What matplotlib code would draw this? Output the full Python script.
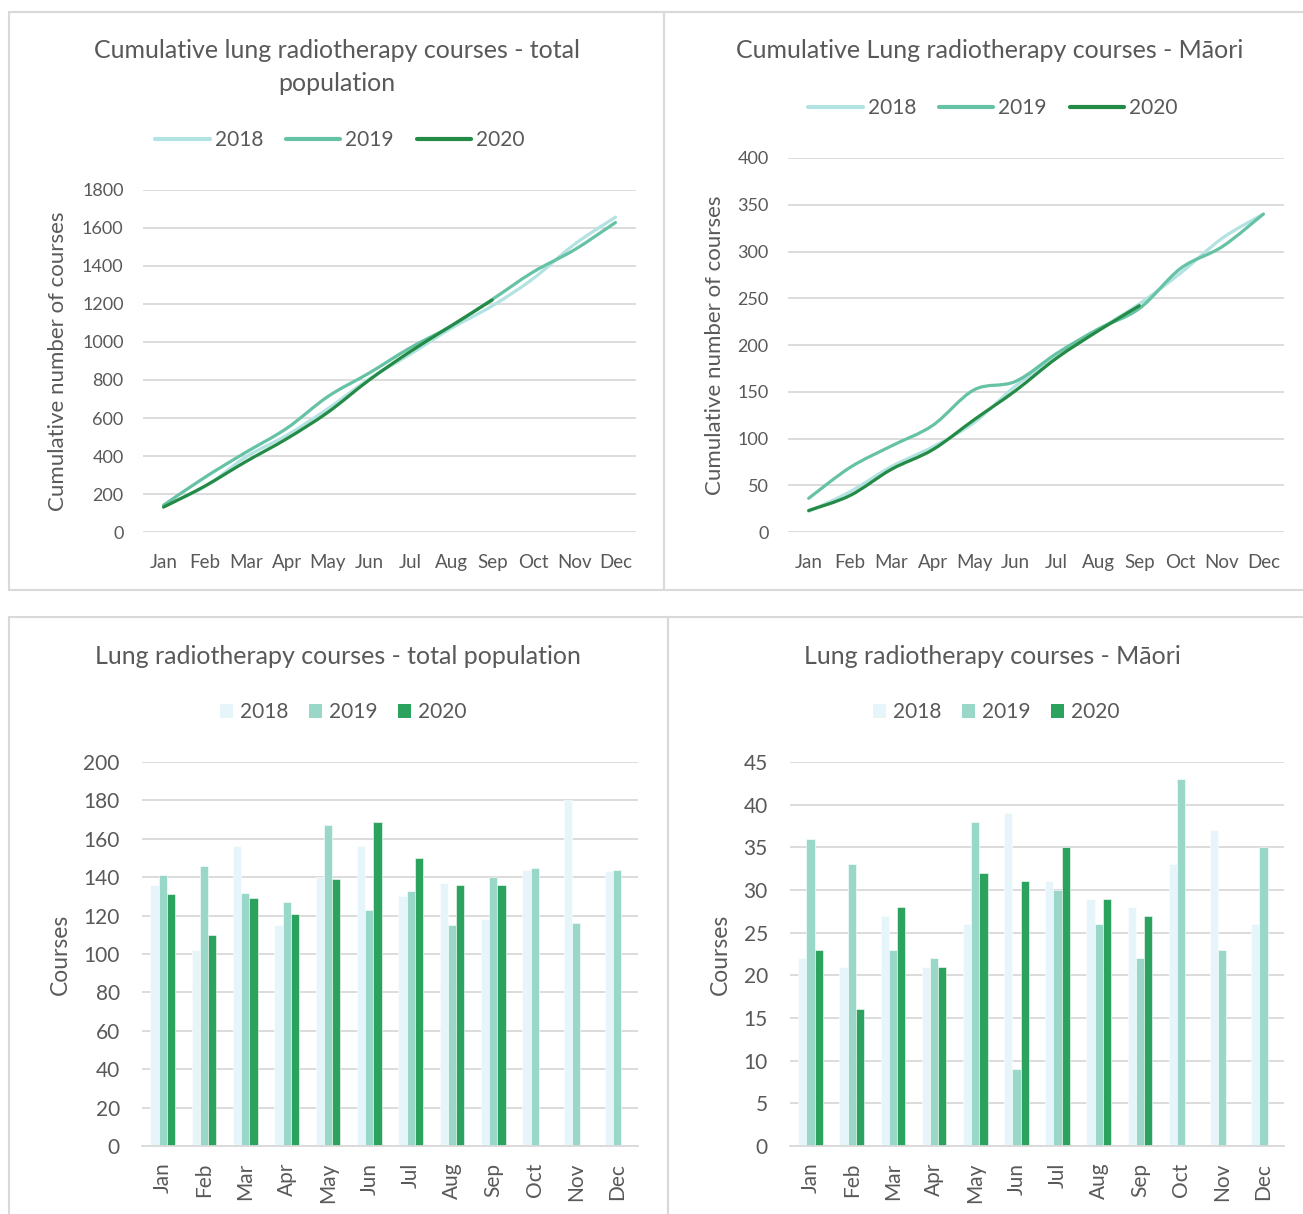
import numpy as np
import matplotlib
matplotlib.use("Agg")
import matplotlib.pyplot as plt
from matplotlib.path import Path
from matplotlib.patches import PathPatch, Rectangle, Patch
from matplotlib.lines import Line2D

plt.rcParams['font.family'] = ['Lato', 'DejaVu Sans']

months = ['Jan', 'Feb', 'Mar', 'Apr', 'May', 'Jun', 'Jul', 'Aug', 'Sep', 'Oct', 'Nov', 'Dec']
years = ['2018', '2019', '2020']

# monthly courses, total population
total_2018 = [136, 102, 156, 115, 140, 156, 130, 137, 118, 144, 180, 143]
total_2019 = [141, 146, 132, 127, 167, 123, 133, 115, 140, 145, 116, 144]
total_2020 = [131, 110, 129, 121, 139, 169, 150, 136, 136]

# monthly courses, Māori
maori_2018 = [22, 21, 27, 21, 26, 39, 31, 29, 28, 33, 37, 26]
maori_2019 = [36, 33, 23, 22, 38, 9, 30, 26, 22, 43, 23, 35]
maori_2020 = [23, 16, 28, 21, 32, 31, 35, 29, 27]

line_colors = ['#b2e2e2', '#66c2a4', '#238b45']
bar_colors = ['#e5f5f9', '#99d8c9', '#2ca25f']
text_col = '#595959'
grid_col = '#d9d9d9'

W, H = 1303, 1214
fig = plt.figure(figsize=(W / 100, H / 100), dpi=100)


def fx(px):
    return px / W


def fy(py):
    return 1 - py / H


def add_axes(x0, y0, x1, y1):
    return fig.add_axes([fx(x0), fy(y1), fx(x1) - fx(x0), (y1 - y0) / H])


def smooth_path(x, y):
    # Catmull-Rom style bezier through the monthly points
    pts = np.column_stack([x, y]).astype(float)
    verts = [pts[0]]
    codes = [Path.MOVETO]
    n = len(pts)
    for i in range(n - 1):
        p0 = pts[max(i - 1, 0)]
        p1 = pts[i]
        p2 = pts[i + 1]
        p3 = pts[min(i + 2, n - 1)]
        verts += [p1 + (p2 - p0) / 6, p2 - (p3 - p1) / 6, p2]
        codes += [Path.CURVE4] * 3
    return Path(verts, codes)


def style_axes(ax, ymax, step, fs):
    ax.set_ylim(0, ymax)
    ax.set_yticks(np.arange(0, ymax + 1, step))
    ax.set_xlim(-0.5, 11.5)
    ax.set_xticks(range(12))
    for s in ax.spines.values():
        s.set_visible(False)
    ax.grid(axis='y', color=grid_col, lw=1.3)
    ax.set_axisbelow(True)
    ax.tick_params(length=0, labelsize=fs, colors=text_col)


def line_panel(ax, series, ymax, step, title_xy, title, leg_xy, ylab_xy):
    style_axes(ax, ymax, step, 13)
    ax.set_xticklabels(months, fontsize=13.5)
    ax.tick_params(axis='y', pad=14)
    ax.tick_params(axis='x', pad=16)
    for vals, c in zip(series, line_colors):
        cum = np.cumsum(vals)
        ax.add_patch(PathPatch(smooth_path(np.arange(len(cum)), cum), fill=False,
                               edgecolor=c, lw=2.3, capstyle='round', joinstyle='round'))
    handles = [Line2D([], [], color=c, lw=3, solid_capstyle='round') for c in line_colors]
    fig.legend(handles, years, loc='center', bbox_to_anchor=(fx(leg_xy[0]), fy(leg_xy[1])),
               ncol=3, frameon=False, fontsize=15, handlelength=2.6, handletextpad=0.25,
               columnspacing=1.1, labelcolor=text_col)
    fig.text(fx(title_xy[0]), fy(title_xy[1]), title, ha='center', va='center',
             fontsize=18, color=text_col, linespacing=1.55)
    fig.text(fx(ylab_xy[0]), fy(ylab_xy[1]), 'Cumulative number of courses', rotation=90,
             ha='center', va='center', fontsize=16, color=text_col)


def bar_panel(ax, series, ymax, step, title_xy, title, leg_xy, ylab_xy):
    style_axes(ax, ymax, step, 15)
    ax.set_xticklabels(months, rotation=90, va='top', ha='center')
    ax.tick_params(axis='y', pad=16)
    ax.tick_params(axis='x', pad=12)
    w = 0.2
    for k, (vals, c) in enumerate(zip(series, bar_colors)):
        x = np.arange(len(vals)) + (k - 1) * w
        ax.bar(x, vals, width=w, color=c, edgecolor='white', lw=0.4, zorder=2)
    ax.spines['bottom'].set_visible(True)
    ax.spines['bottom'].set_color(grid_col)
    ax.spines['bottom'].set_linewidth(1.3)
    handles = [Patch(facecolor=c, edgecolor='none') for c in bar_colors]
    fig.legend(handles, years, loc='center', bbox_to_anchor=(fx(leg_xy[0]), fy(leg_xy[1])),
               ncol=3, frameon=False, fontsize=15, handlelength=0.65, handleheight=0.65,
               handletextpad=0.3, columnspacing=1.0, labelcolor=text_col)
    fig.text(fx(title_xy[0]), fy(title_xy[1]), title, ha='center', va='center',
             fontsize=18, color=text_col)
    fig.text(fx(ylab_xy[0]), fy(ylab_xy[1]), 'Courses', rotation=90,
             ha='center', va='center', fontsize=16.5, color=text_col)


# panel frames
for x0, y0, x1, y1 in [(9, 12, 664, 590), (664, 12, 1320, 590),
                       (9, 617, 668, 1230), (668, 617, 1320, 1230)]:
    fig.add_artist(Rectangle((fx(x0), fy(y1)), fx(x1) - fx(x0), (y1 - y0) / H,
                             transform=fig.transFigure, fill=False,
                             edgecolor=grid_col, lw=1.5))

ax1 = add_axes(143, 190, 636, 532)
line_panel(ax1, [total_2018, total_2019, total_2020], 1800, 200, (337, 67),
           'Cumulative lung radiotherapy courses - total\npopulation', (340, 140), (58, 361))

ax2 = add_axes(788, 158, 1284, 532)
line_panel(ax2, [maori_2018, maori_2019, maori_2020], 400, 50, (990, 51),
           'Cumulative Lung radiotherapy courses - Māori', (993, 108), (715, 345))

ax3 = add_axes(142, 762, 638, 1146)
bar_panel(ax3, [total_2018, total_2019, total_2020], 200, 20, (338, 656),
          'Lung radiotherapy courses - total population', (343, 712), (60, 954))

ax4 = add_axes(790, 762, 1284, 1146)
bar_panel(ax4, [maori_2018, maori_2019, maori_2020], 45, 5, (992, 656),
          'Lung radiotherapy courses - Māori', (996, 712), (720, 954))

fig.savefig('out.png', dpi=100, facecolor='white')
